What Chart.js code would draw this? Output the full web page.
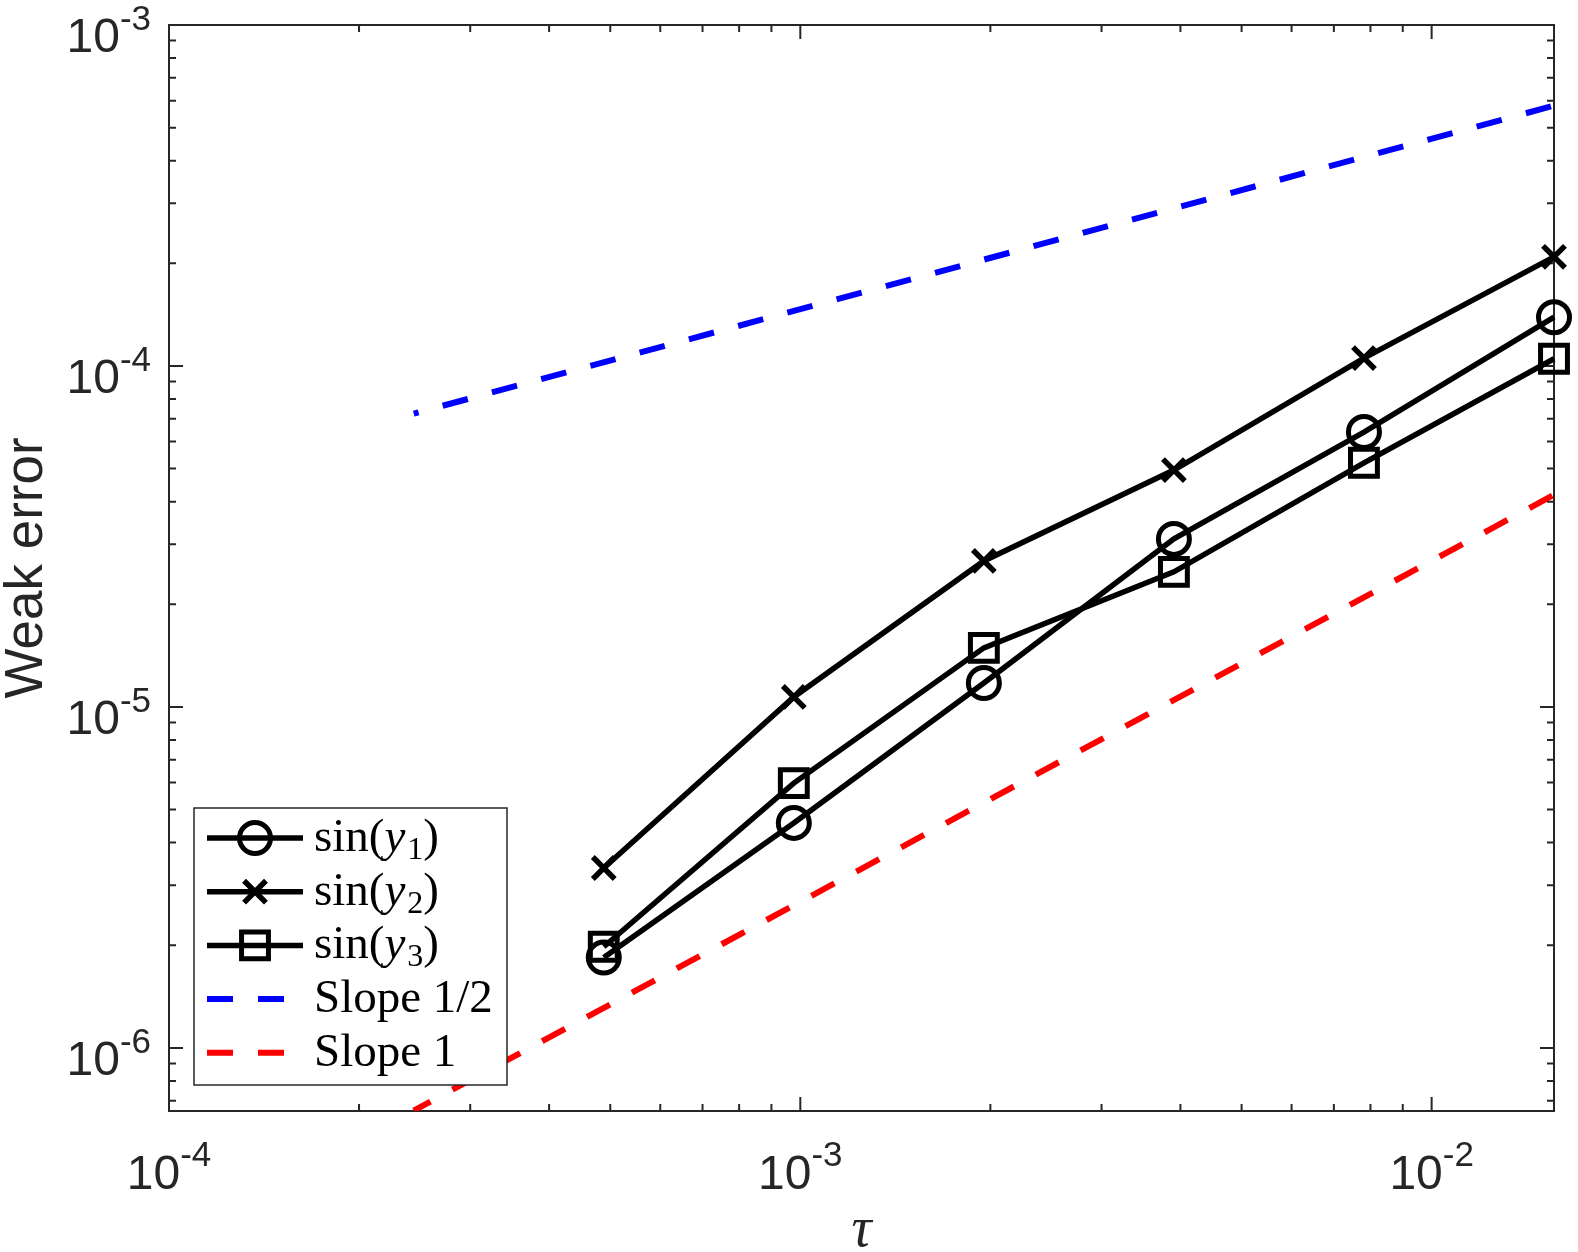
<!DOCTYPE html>
<html>
<head>
<meta charset="utf-8">
<title>Weak error</title>
<script src="https://cdn.jsdelivr.net/npm/chart.js@4.4.1/dist/chart.umd.min.js"></script>
<style>
    html, body { margin: 0; padding: 0; background: #fff; }
    #wrap { width: 1578px; height: 1252px; }
</style>
</head>
<body>
<div id="wrap"><canvas id="errChart" width="1578" height="1252"></canvas></div>
<script>
// data srt
const tau = [0.00048828125, 0.0009765625, 0.001953125, 0.00390625, 0.0078125, 0.015625];
const errSin1 = [1.84e-6, 4.57e-6, 1.175e-5, 3.11e-5, 6.40e-5, 1.39e-4];
const errSin2 = [3.37e-6, 1.07e-5, 2.68e-5, 4.95e-5, 1.055e-4, 2.09e-4];
const errSin3 = [1.98e-6, 5.98e-6, 1.49e-5, 2.49e-5, 5.20e-5, 1.05e-4];

// reference lines, end points only
const refTau = [0.000244140625, 0.015625];
const slopeHalf = [7.25e-5, 5.8e-4];
const slopeOne = [6.55e-7, 4.19e-5];

const seriesNames = ['sin(y1)', 'sin(y2)', 'sin(y3)', 'Slope 1/2', 'Slope 1'];

// tick labels
const xTicks = [1e-4, 1e-3, 1e-2];
const xTickExp = ['-4', '-3', '-2'];
const yTicks = [1e-6, 1e-5, 1e-4, 1e-3];
const yTickExp = ['-6', '-5', '-4', '-3'];
// data end

function pairs(xs, ys) {
    return xs.map((v, i) => ({ x: v, y: ys[i] }));
}

const axisColor = '#262626';
const sansFont = '"Liberation Sans", Arial, Helvetica, sans-serif';
const serifFont = '"Liberation Serif", "Times New Roman", serif';

// marker helper, used for the legend samples
function drawMarker(ctx, style, cx, cy, r, lw) {
    ctx.save();
    ctx.lineWidth = lw;
    ctx.strokeStyle = '#000';
    ctx.beginPath();
    if (style === 'circle') {
        ctx.arc(cx, cy, r, 0, Math.PI * 2);
    } else if (style === 'crossRot') {
        const d = r * Math.SQRT1_2;
        ctx.moveTo(cx - d, cy - d); ctx.lineTo(cx + d, cy + d);
        ctx.moveTo(cx - d, cy + d); ctx.lineTo(cx + d, cy - d);
    } else if (style === 'rect') {
        const d = r * Math.SQRT1_2;
        ctx.rect(cx - d, cy - d, 2 * d, 2 * d);
    }
    ctx.stroke();
    ctx.restore();
}

// frame, ticks and labels srt
const matlabAxes = {
    id: 'matlabAxes',
    beforeDatasetsDraw(chart) {
        const { ctx, chartArea: a, scales: { x, y } } = chart;
        ctx.save();
        ctx.strokeStyle = axisColor;
        ctx.lineWidth = 2;
        ctx.strokeRect(a.left, a.top, a.right - a.left, a.bottom - a.top);

        ctx.beginPath();
        for (let d = -4; d <= -2; d++) {
            for (let k = 1; k <= 9; k++) {
                const v = k * Math.pow(10, d);
                if (v < x.min * 0.999 || v > x.max * 1.001) continue;
                const px = x.getPixelForValue(v);
                const len = k === 1 ? 14 : 7;
                ctx.moveTo(px, a.bottom); ctx.lineTo(px, a.bottom - len);
                ctx.moveTo(px, a.top); ctx.lineTo(px, a.top + len);
            }
        }
        for (let d = -7; d <= -3; d++) {
            for (let k = 1; k <= 9; k++) {
                const v = k * Math.pow(10, d);
                if (v < y.min * 0.999 || v > y.max * 1.001) continue;
                const py = y.getPixelForValue(v);
                const len = k === 1 ? 14 : 7;
                ctx.moveTo(a.left, py); ctx.lineTo(a.left + len, py);
                ctx.moveTo(a.right, py); ctx.lineTo(a.right - len, py);
            }
        }
        ctx.stroke();

        // tick labels 10^n
        ctx.fillStyle = axisColor;
        ctx.textBaseline = 'alphabetic';
        ctx.textAlign = 'left';
        xTicks.forEach((v, i) => {
            const px = x.getPixelForValue(v);
            ctx.font = '48px ' + sansFont;
            const w1 = ctx.measureText('10').width;
            ctx.font = '35px ' + sansFont;
            const w2 = ctx.measureText(xTickExp[i]).width;
            const left = px - (w1 + w2) / 2;
            ctx.font = '48px ' + sansFont;
            ctx.fillText('10', left, 1189);
            ctx.font = '35px ' + sansFont;
            ctx.fillText(xTickExp[i], left + w1, 1166);
        });
        yTicks.forEach((v, i) => {
            const py = y.getPixelForValue(v);
            const right = a.left - 18;
            ctx.font = '35px ' + sansFont;
            const w2 = ctx.measureText(yTickExp[i]).width;
            ctx.fillText(yTickExp[i], right - w2, py + 5);
            ctx.font = '48px ' + sansFont;
            const w1 = ctx.measureText('10').width;
            ctx.fillText('10', right - w2 - w1, py + 27);
        });

        // axis titles
        ctx.textAlign = 'center';
        ctx.font = '53px ' + sansFont;
        ctx.save();
        ctx.translate(42, (a.top + a.bottom) / 2);
        ctx.rotate(-Math.PI / 2);
        ctx.fillText('Weak error', 0, 0);
        ctx.restore();
        ctx.font = 'italic 56px ' + serifFont;
        ctx.fillText('τ', (a.left + a.right) / 2, 1246);
        ctx.restore();
    },
    afterDatasetsDraw(chart) {
        const { ctx } = chart;
        const bx = 194, by = 808, bw = 313, bh = 277;
        ctx.save();
        ctx.fillStyle = '#fff';
        ctx.fillRect(bx, by, bw, bh);
        ctx.strokeStyle = axisColor;
        ctx.lineWidth = 1.5;
        ctx.strokeRect(bx, by, bw, bh);

        chart.data.datasets.forEach((ds, i) => {
            const ly = 838 + i * 53.7;
            ctx.save();
            ctx.strokeStyle = ds.borderColor;
            ctx.lineWidth = ds.borderWidth;
            ctx.lineCap = 'butt';
            if (ds.borderDash) ctx.setLineDash(ds.borderDash);
            ctx.beginPath();
            ctx.moveTo(207, ly);
            ctx.lineTo(303, ly);
            ctx.stroke();
            ctx.restore();
            if (ds.pointRadius > 0) {
                drawMarker(ctx, ds.pointStyle, 255, ly, ds.pointRadius, ds.pointBorderWidth);
            }

            // label, sin(y_k) gets italic y and a subscript
            ctx.fillStyle = '#000';
            ctx.textAlign = 'left';
            const m = /^sin\(y(\d)\)$/.exec(ds.label);
            let tx = 314;
            const base = ly + 13;
            if (m) {
                const parts = [
                    ['sin(', '47px ' + serifFont, 0],
                    ['y', 'italic 47px ' + serifFont, 0],
                    [m[1], '32px ' + serifFont, 8],
                    [')', '47px ' + serifFont, 0]
                ];
                parts.forEach(p => {
                    ctx.font = p[1];
                    ctx.fillText(p[0], tx, base + p[2]);
                    tx += ctx.measureText(p[0]).width + (p[0] === 'y' ? 2 : 0);
                });
            } else {
                ctx.font = '47px ' + serifFont;
                ctx.fillText(ds.label, tx, base);
            }
        });
        ctx.restore();
    }
};
// frame, ticks and labels end

// chart srt
const markerLine = {
    borderColor: '#000',
    borderWidth: 5.5,
    pointBorderColor: '#000',
    pointBackgroundColor: 'rgba(0,0,0,0)',
    tension: 0,
    clip: false
};

const config = {
    type: 'line',
    data: {
        datasets: [
            Object.assign({}, markerLine, {
                label: seriesNames[0],
                data: pairs(tau, errSin1),
                pointStyle: 'circle',
                pointRadius: 15.5,
                pointBorderWidth: 5
            }),
            Object.assign({}, markerLine, {
                label: seriesNames[1],
                data: pairs(tau, errSin2),
                pointStyle: 'crossRot',
                pointRadius: 15.5,
                pointBorderWidth: 5.5
            }),
            Object.assign({}, markerLine, {
                label: seriesNames[2],
                data: pairs(tau, errSin3),
                pointStyle: 'rect',
                pointRadius: 19,
                pointBorderWidth: 5
            }),
            {
                label: seriesNames[3],
                data: pairs(refTau, slopeHalf),
                borderColor: '#0000ff',
                borderWidth: 6,
                borderDash: [26, 25],
                borderDashOffset: 21,
                borderCapStyle: 'butt',
                pointRadius: 0
            },
            {
                label: seriesNames[4],
                data: pairs(refTau, slopeOne),
                borderColor: '#ff0000',
                borderWidth: 6,
                borderDash: [26, 25],
                borderDashOffset: 7,
                borderCapStyle: 'butt',
                pointRadius: 0
            }
        ]
    },
    options: {
        responsive: false,
        devicePixelRatio: 1,
        animation: false,
        events: [],
        layout: { padding: { top: 25, right: 22, left: 0, bottom: 0 } },
        plugins: {
            legend: { display: false },
            tooltip: { enabled: false }
        },
        scales: {
            x: {
                type: 'logarithmic',
                min: 1e-4,
                max: 0.015625,
                grid: { display: false },
                border: { display: false },
                ticks: { display: false },
                afterFit(s) { s.height = 141; }
            },
            y: {
                type: 'logarithmic',
                min: 6.53e-7,
                max: 1e-3,
                grid: { display: false },
                border: { display: false },
                ticks: { display: false },
                afterFit(s) { s.width = 169; }
            }
        }
    },
    plugins: [matlabAxes]
};

const chart = new Chart(document.getElementById('errChart').getContext('2d'), config);
// chart end
</script>
</body>
</html>
